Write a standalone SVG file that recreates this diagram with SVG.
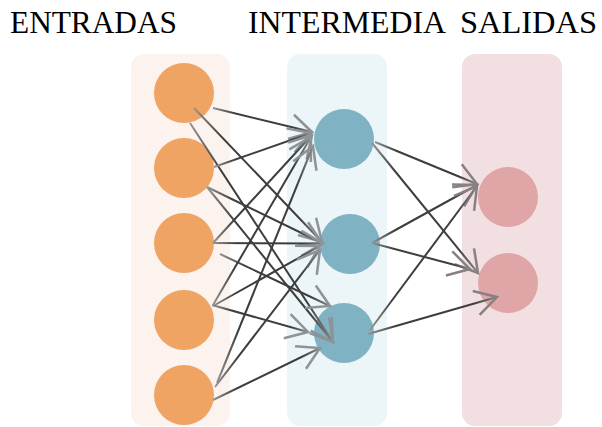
<svg xmlns="http://www.w3.org/2000/svg" width="602" height="427" viewBox="0 0 602 427">
<style>
.title{font-family:"Liberation Serif","Times New Roman",serif;font-size:31px;fill:#000}
.in{fill:#efa463}
.mid{fill:#7fb3c4}
.out{fill:#e0a5a6}
.e{fill:none;stroke:url(#lg) #3d3d3d;stroke-width:2}
.a1{marker-end:url(#hm)}
.a2{marker-end:url(#ho)}
</style>
<defs>
<linearGradient id="lg" x1="0" y1="0" x2="1" y2="0">
<stop offset="0" stop-color="#959595"/>
<stop offset="0.22" stop-color="#3d3d3d"/>
<stop offset="0.82" stop-color="#3d3d3d"/>
<stop offset="1" stop-color="#8c8c8c"/>
</linearGradient>
<marker id="hm" markerUnits="userSpaceOnUse" markerWidth="30" markerHeight="30" viewBox="-20 -12 22 24" refX="0" refY="0" orient="auto" overflow="visible">
<path d="M-17.3,-10 L0,0 L-17.3,10" fill="none" stroke="#8d9396" stroke-width="2"/>
</marker>
<marker id="ho" markerUnits="userSpaceOnUse" markerWidth="30" markerHeight="30" viewBox="-20 -12 22 24" refX="0" refY="0" orient="auto" overflow="visible">
<path d="M-17.3,-10 L0,0 L-17.3,10" fill="none" stroke="#8a8083" stroke-width="2"/>
</marker>
</defs>
<rect width="602" height="427" fill="#fff"/>
<g id="labels">
<text class="title" x="10" y="33" textLength="167" lengthAdjust="spacingAndGlyphs">ENTRADAS</text>
<text class="title" x="248" y="33" textLength="198" lengthAdjust="spacingAndGlyphs">INTERMEDIA</text>
<text class="title" x="460" y="33" textLength="137" lengthAdjust="spacingAndGlyphs">SALIDAS</text>
</g>
<g id="panels">
<rect id="panel-in" x="131" y="54" width="99" height="372" rx="13" fill="#fdf3ee"/>
<rect id="panel-mid" x="287" y="54" width="100" height="372" rx="13" fill="#ecf5f8"/>
<rect id="panel-out" x="462" y="54" width="100" height="372" rx="13" fill="#f2dfe1"/>
</g>
<g id="in1"><circle class="in" cx="184" cy="93" r="30"/></g>
<g id="in2"><circle class="in" cx="184" cy="168" r="30"/></g>
<g id="in3"><circle class="in" cx="184" cy="243" r="30"/></g>
<g id="in4"><circle class="in" cx="184" cy="320" r="30"/></g>
<g id="in5"><circle class="in" cx="184" cy="395" r="30"/></g>
<g id="mid1"><circle class="mid" cx="344" cy="139" r="30"/></g>
<g id="mid2"><circle class="mid" cx="350" cy="244" r="30"/></g>
<g id="mid3"><circle class="mid" cx="344" cy="333" r="30"/></g>
<g id="out1"><circle class="out" cx="508" cy="197" r="30"/></g>
<g id="out2"><circle class="out" cx="508" cy="283" r="30"/></g>
<g id="connectors">
<line class="e a1" x1="213" y1="108" x2="312" y2="132"/>
<line class="e a1" x1="194" y1="108" x2="322" y2="242"/>
<line class="e a1" x1="190" y1="123" x2="333" y2="342"/>
<line class="e a1" x1="214" y1="167" x2="311" y2="133"/>
<line class="e a1" x1="207" y1="187" x2="322" y2="243"/>
<line class="e a1" x1="207" y1="187" x2="333" y2="342"/>
<line class="e a1" x1="213" y1="243" x2="312" y2="135"/>
<line class="e a1" x1="213" y1="243" x2="323" y2="243.4"/>
<line class="e a1" x1="220" y1="254" x2="330" y2="306"/>
<line class="e a1" x1="213" y1="305" x2="311" y2="137"/>
<line class="e a1" x1="213" y1="306" x2="320" y2="246"/>
<line class="e a1" x1="212" y1="305" x2="308" y2="332"/>
<line class="e a1" x1="217" y1="383" x2="313" y2="146"/>
<line class="e a1" x1="215" y1="387" x2="320" y2="250"/>
<line class="e a1" x1="213" y1="400" x2="320" y2="348"/>
<line class="e a2" x1="375" y1="142" x2="477" y2="184"/>
<line class="e a2" x1="372" y1="143" x2="478" y2="273"/>
<line class="e a2" x1="372" y1="243" x2="477" y2="185"/>
<line class="e a2" x1="372" y1="243" x2="470" y2="269"/>
<line class="e a2" x1="370" y1="330" x2="477" y2="186"/>
<line class="e a2" x1="368" y1="334" x2="497" y2="297"/>
</g>
</svg>
